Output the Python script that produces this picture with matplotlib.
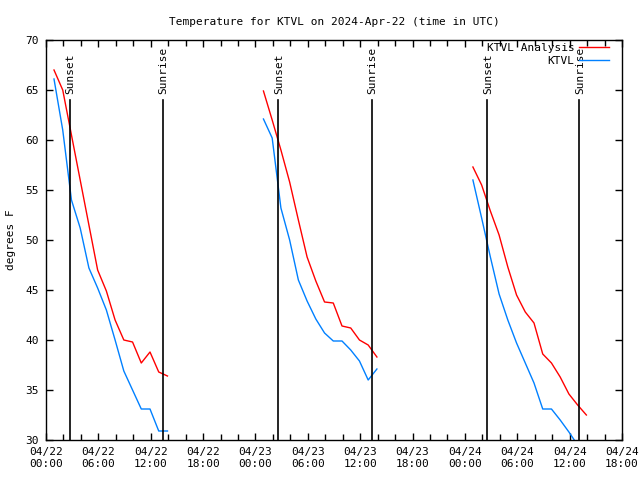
import matplotlib
matplotlib.use("Agg")
import matplotlib.pyplot as plt
import matplotlib.dates as mdates
import numpy as np
from datetime import datetime, timedelta

plt.rcParams['font.family'] = ['DejaVu Sans Mono']
FS = 8

START = datetime(2024, 4, 22, 0, 0)
# hourly obs at :55 past, three evenings
NIGHT_START_HOURS = [0, 24, 48]

analysis_n1 = [67.0, 65.0, 60.5, 56.0, 51.5, 47.0, 44.9, 42.0, 40.0, 39.8, 37.7, 38.8, 36.8, 36.4]
analysis_n2 = [64.9, 62.0, 59.0, 55.8, 52.0, 48.3, 45.9, 43.8, 43.7, 41.4, 41.2, 40.0, 39.5, 38.3]
analysis_n3 = [57.3, 55.5, 52.9, 50.5, 47.3, 44.5, 42.8, 41.7, 38.6, 37.7, 36.3, 34.6, 33.5, 32.5]

obs_n1 = [66.1, 61.0, 54.0, 51.2, 47.2, 45.2, 43.0, 40.0, 36.9, 35.0, 33.1, 33.1, 30.9, 30.9]
obs_n2 = [62.1, 60.2, 53.2, 50.0, 46.0, 43.9, 42.1, 40.7, 39.9, 39.9, 39.0, 37.9, 36.0, 37.1]
obs_n3 = [56.0, 52.2, 48.3, 44.6, 42.0, 39.7, 37.7, 35.7, 33.1, 33.1, 32.0, 30.8, 29.5]

sunset = ["2024-04-22 02:43", "2024-04-23 02:38", "2024-04-24 02:34"]
sunrise = ["2024-04-22 13:21", "2024-04-23 13:19", "2024-04-24 13:07"]

RED = "#ff0000"
BLUE = "#0080ff"


def night_times(h0, n):
    return [START + timedelta(hours=h0 + i, minutes=55) for i in range(n)]


fig = plt.figure(figsize=(6.4, 4.8), dpi=100)
ax = fig.add_axes([46 / 640, 40 / 480, 576 / 640, 400 / 480])

analysis = [analysis_n1, analysis_n2, analysis_n3]
obs = [obs_n1, obs_n2, obs_n3]
for k, h0 in enumerate(NIGHT_START_HOURS):
    ax.plot(night_times(h0, len(analysis[k])), analysis[k], color=RED, lw=1,
            label="KTVL Analysis" if k == 0 else None)
    ax.plot(night_times(h0, len(obs[k])), obs[k], color=BLUE, lw=1,
            label="KTVL" if k == 0 else None)

for name, times in (("Sunset", sunset), ("Sunrise", sunrise)):
    for s in times:
        t = datetime.strptime(s, "%Y-%m-%d %H:%M")
        ax.plot([t, t], [30, 64], color="black", lw=1.2)
        ax.text(t + timedelta(minutes=5), 64.6, name, rotation=90,
                ha="center", va="bottom", fontsize=FS)

ax.set_xlim(START, START + timedelta(hours=66))
ax.set_ylim(30, 70)
ax.xaxis.set_major_locator(mdates.HourLocator(byhour=[0, 6, 12, 18]))
ax.xaxis.set_minor_locator(mdates.HourLocator(byhour=range(0, 24, 2)))
ax.xaxis.set_major_formatter(mdates.DateFormatter("%m/%d\n%H:%M"))
ax.set_yticks(np.arange(30, 71, 5))
ax.tick_params(which="both", direction="in", top=True, right=True,
               labelsize=FS, width=1)
ax.tick_params(which="major", length=5, pad=5)
ax.tick_params(which="minor", length=4)
for sp in ax.spines.values():
    sp.set_linewidth(1)

ax.set_ylabel("degrees F", fontsize=FS, labelpad=7)
ax.set_title("Temperature for KTVL on 2024-Apr-22 (time in UTC)",
             fontsize=FS, pad=11)

ax.legend(loc="upper right", frameon=False, markerfirst=False, fontsize=FS,
          handlelength=2.7, handletextpad=0.4, labelspacing=0.25,
          borderaxespad=0.0, bbox_to_anchor=(0.985, 1.004))

fig.savefig("out.png", dpi=100)
